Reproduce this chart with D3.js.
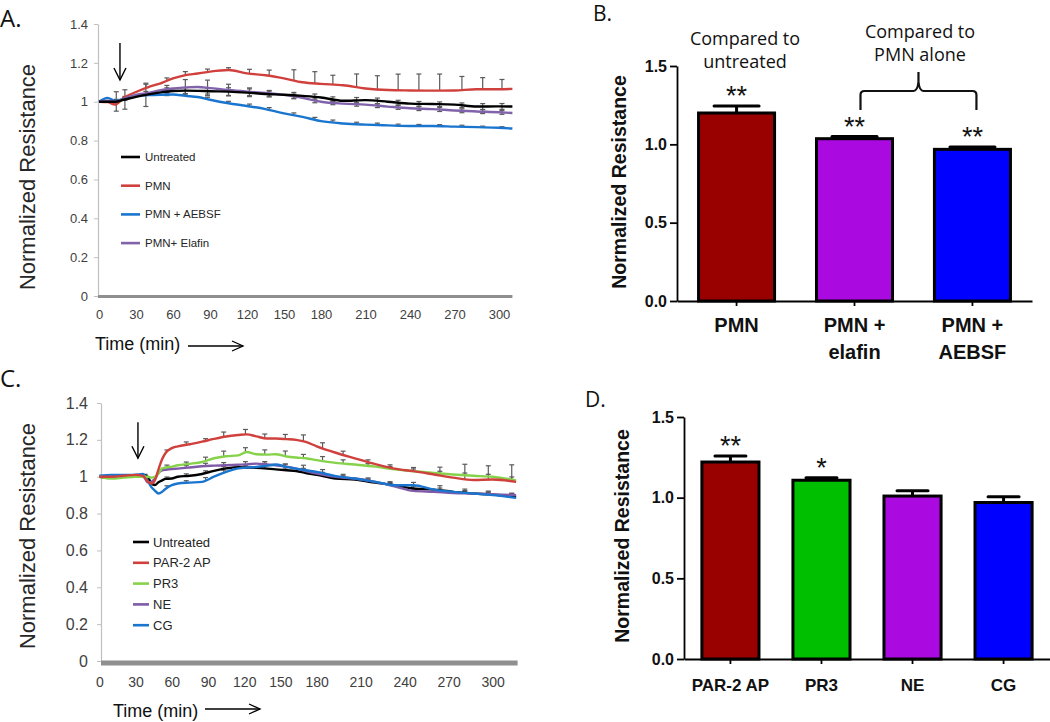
<!DOCTYPE html>
<html><head><meta charset="utf-8">
<script src="https://cdn.jsdelivr.net/npm/d3@7"></script>
<style>body{margin:0;background:#fff}svg{display:block}</style>
</head><body>
<script>
// ---------------- DATA ----------------
const yTicksLine = [0, 0.2, 0.4, 0.6, 0.8, 1, 1.2, 1.4];
const xTicksLine = [0, 30, 60, 90, 120, 150, 180, 210, 240, 270, 300];
const yTicksBar = [0, 0.5, 1.0, 1.5];

// Panel A
const timeA = [0, 7, 13, 20, 30, 40, 50, 60, 70, 80, 90, 105, 120, 135, 150, 165, 180, 195, 210, 225, 240, 255, 270, 285, 300, 309];
const untreatedA = [1.0, 1.0, 1.0, 1.01, 1.025, 1.038, 1.048, 1.055, 1.057, 1.056, 1.054, 1.052, 1.047, 1.04, 1.036, 1.03, 1.022, 1.005, 1.008, 1.0, 0.99, 0.988, 0.985, 0.975, 0.976, 0.975];
const pmnA = [1.0, 0.998, 0.985, 1.02, 1.05, 1.075, 1.095, 1.12, 1.137, 1.145, 1.155, 1.163, 1.146, 1.136, 1.12, 1.1, 1.092, 1.085, 1.068, 1.06, 1.058, 1.057, 1.058, 1.064, 1.064, 1.066];
const aebsfA = [1.0, 1.02, 1.004, 1.015, 1.03, 1.034, 1.036, 1.037, 1.03, 1.024, 1.01, 0.992, 0.978, 0.962, 0.94, 0.922, 0.9, 0.888, 0.882, 0.878, 0.875, 0.875, 0.872, 0.869, 0.866, 0.862];
const elafinA = [1.0, 1.005, 1.0, 1.015, 1.035, 1.045, 1.06, 1.068, 1.074, 1.076, 1.07, 1.06, 1.052, 1.045, 1.035, 1.02, 1.0, 0.99, 0.985, 0.975, 0.966, 0.962, 0.955, 0.95, 0.946, 0.942];
const errTimeA = [14, 21, 38, 55, 70, 88, 105, 122, 138, 158, 175, 188, 204, 218, 232, 246, 260, 275, 289, 302];
const errUntreatedA = [0.05, 0.05, 0.06, 0.02, 0.015, 0.015, 0.02, 0.02, 0.015, 0.015, 0.015, 0.012, 0.015, 0.015, 0.012, 0.012, 0.012, 0.012, 0.015, 0.015];
const errPmnA = [0, 0, 0.02, 0.015, 0.018, 0.015, 0.012, 0.022, 0.03, 0.055, 0.06, 0.048, 0.068, 0.07, 0.083, 0.085, 0.085, 0.07, 0.06, 0.05];
const errAebsfA = [0.005, 0.005, 0.005, 0.01, 0.01, 0.01, 0.01, 0.012, 0.012, 0.012, 0.012, 0.012, 0.01, 0.01, 0.008, 0.008, 0.008, 0.008, 0.006, 0.006];
const errElafinA = [0.01, 0.01, 0.01, 0.02, 0.04, 0.04, 0.03, 0.02, 0.015, 0.012, 0.012, 0.01, 0.01, 0.01, 0.01, 0.01, 0.01, 0.01, 0.01, 0.01];

// Panel C
const timeC = [0, 10, 20, 30, 36, 40, 43, 46, 49, 52, 55, 60, 65, 75, 85, 95, 105, 115, 122, 130, 139, 146, 155, 163, 171, 180, 193, 206, 220, 233, 246, 260, 273, 287, 300, 316];
const untreatedC = [1.0, 0.995, 1.0, 1.005, 1.01, 1.0, 0.965, 0.955, 0.97, 0.98, 0.988, 0.99, 1.0, 1.005, 1.015, 1.032, 1.045, 1.052, 1.05, 1.048, 1.044, 1.04, 1.035, 1.031, 1.02, 1.01, 0.99, 0.984, 0.968, 0.954, 0.936, 0.93, 0.918, 0.909, 0.903, 0.89];
const par2C = [1.0, 1.0, 1.005, 1.01, 1.005, 0.975, 0.963, 0.98, 1.04, 1.095, 1.13, 1.155, 1.165, 1.176, 1.19, 1.205, 1.218, 1.226, 1.23, 1.219, 1.207, 1.207, 1.204, 1.2, 1.189, 1.165, 1.13, 1.1, 1.068, 1.044, 1.03, 1.012, 0.995, 0.982, 0.985, 0.972];
const pr3C = [1.0, 0.99, 0.995, 1.0, 1.0, 1.0, 0.995, 1.0, 1.017, 1.045, 1.05, 1.055, 1.062, 1.07, 1.08, 1.1, 1.111, 1.116, 1.134, 1.122, 1.12, 1.122, 1.11, 1.104, 1.1, 1.09, 1.075, 1.066, 1.055, 1.04, 1.03, 1.02, 1.012, 1.005, 1.0, 0.98];
const neC = [1.0, 1.0, 1.005, 1.01, 1.01, 0.97, 0.972, 0.99, 1.02, 1.035, 1.038, 1.042, 1.044, 1.05, 1.057, 1.06, 1.062, 1.065, 1.067, 1.071, 1.066, 1.062, 1.055, 1.044, 1.03, 1.017, 0.999, 0.99, 0.972, 0.948, 0.923, 0.918, 0.912, 0.909, 0.905, 0.9];
const cgC = [1.005, 1.01, 1.01, 1.01, 1.015, 0.98, 0.945, 0.925, 0.909, 0.918, 0.935, 0.954, 0.963, 0.968, 0.972, 1.0, 1.026, 1.045, 1.05, 1.053, 1.06, 1.066, 1.053, 1.044, 1.035, 1.026, 1.003, 0.99, 0.972, 0.954, 0.954, 0.93, 0.918, 0.909, 0.9, 0.885];
const errTimeC = [23, 38, 56, 72, 88, 103, 121, 137, 154, 169, 184, 198, 215, 230, 246, 264, 281, 297, 313];
const errUntreatedC = [0.008, 0.008, 0.01, 0.012, 0.012, 0.012, 0.012, 0.012, 0.012, 0.012, 0.01, 0.01, 0.01, 0.012, 0.012, 0.012, 0.012, 0.012, 0.012];
const errPar2C = [0.005, 0.005, 0.01, 0.016, 0.012, 0.027, 0.027, 0.022, 0.025, 0.035, 0.03, 0.02, 0.012, 0.015, 0.02, 0.045, 0.08, 0.075, 0.09];
const errPr3C = [0, 0, 0.012, 0.012, 0.02, 0.03, 0.026, 0.025, 0.028, 0.02, 0.024, 0.02, 0.012, 0.012, 0.012, 0.012, 0.012, 0.012, 0.015];
const errNeC = [0, 0, 0.012, 0.012, 0.015, 0.015, 0.015, 0.015, 0.012, 0.012, 0.012, 0.01, 0.01, 0.01, 0.01, 0.01, 0.01, 0.01, 0.01];
const errCgC = [0, 0, 0.012, 0.012, 0.015, 0.015, 0.015, 0.015, 0.015, 0.025, 0.02, 0.015, 0.015, 0.015, 0.015, 0.025, 0.02, 0.02, 0.02];

// Panel B
const catsB = ["PMN", "PMN +\nelafin", "PMN +\nAEBSF"];
const valsB = [1.20, 1.036, 0.968];
const errsB = [0.045, 0.014, 0.015];
const starsB = ["**", "**", "**"];
const colorsB = ["#990000", "#aa0ae0", "#0000ff"];

// Panel D
const catsD = ["PAR-2 AP", "PR3", "NE", "CG"];
const valsD = [1.221, 1.108, 1.01, 0.97];
const errsD = [0.037, 0.016, 0.033, 0.035];
const starsD = ["**", "*", "", ""];
const colorsD = ["#990000", "#00bf00", "#aa0ae0", "#0000ff"];

// ---------------- DRAW ----------------
const LS = "'Liberation Sans', Arial, sans-serif";
const OS = "'Open Sans', sans-serif";
const svg = d3.select("body").append("svg").attr("width", 1050).attr("height", 722)
  .style("background", "#fff");

function drawLinePanel(o) {
  const g = svg.append("g");
  const x = d3.scaleLinear().domain(o.xDomain).range(o.xRange);
  const y = d3.scaleLinear().domain([0, 1.4]).range(o.yRange);

  const ya = g.append("g").attr("transform", `translate(${o.yAxisX},0)`)
    .call(d3.axisLeft(y).tickValues(yTicksLine).tickFormat(d3.format("~g"))
      .tickSize(4).tickSizeOuter(0).tickPadding(o.yTickPad));
  ya.select(".domain").attr("stroke", "#bfbfbf").attr("stroke-width", 1.2);
  ya.selectAll(".tick line").attr("stroke", "#bfbfbf");
  ya.selectAll("text").attr("font-family", LS).attr("font-size", o.yTickFont).attr("fill", "#404040");

  const xa = g.append("g").attr("transform", `translate(0,${o.yRange[0]})`)
    .call(d3.axisBottom(x).tickValues(xTicksLine).tickSize(0).tickSizeOuter(0).tickPadding(o.xTickPad));
  xa.select(".domain").remove();
  xa.selectAll("text").attr("font-family", LS).attr("font-size", o.xTickFont).attr("fill", "#404040");
  g.append("line").attr("x1", o.yAxisX).attr("x2", o.xRange[o.xRange.length - 1])
    .attr("y1", o.yRange[0] + o.barOff).attr("y2", o.yRange[0] + o.barOff)
    .attr("stroke", "#8f8f8f").attr("stroke-width", o.barW);

  o.series.forEach(s => {
    const interp = d3.scaleLinear().domain(o.time).range(s.values);
    const eg = g.append("g").attr("stroke", "#5a5a5a").attr("stroke-width", 1.2);
    o.errTime.forEach((t, i) => {
      const e = s.err[i];
      if (!e) return;
      const m = interp(t), cx = x(t);
      const top = y(m + e), bot = s.both ? y(m - e) : y(m);
      eg.append("line").attr("x1", cx).attr("x2", cx).attr("y1", top).attr("y2", bot);
      eg.append("line").attr("x1", cx - 2.5).attr("x2", cx + 2.5).attr("y1", top).attr("y2", top);
      if (s.both) eg.append("line").attr("x1", cx - 2.5).attr("x2", cx + 2.5).attr("y1", bot).attr("y2", bot);
    });
  });

  const line = d3.line().x((d, i) => x(o.time[i])).y(d => y(d)).curve(d3.curveMonotoneX);
  o.drawOrder.forEach(k => {
    const s = o.series[k];
    g.append("path").datum(s.values).attr("d", line).attr("fill", "none")
      .attr("stroke", s.color).attr("stroke-width", 2.4).attr("stroke-linejoin", "round");
  });

  o.series.forEach((s, i) => {
    const ly = o.legend.y0 + i * o.legend.dy;
    g.append("line").attr("x1", o.legend.x1).attr("x2", o.legend.x2).attr("y1", ly).attr("y2", ly)
      .attr("stroke", s.color).attr("stroke-width", 2.6);
    g.append("text").attr("x", o.legend.tx).attr("y", ly).attr("dy", "0.35em")
      .attr("font-family", LS).attr("font-size", o.legend.font).attr("fill", "#262626").text(s.name);
  });

  const ax = x(o.arrowT), ay1 = y(o.arrowTop), ay2 = y(o.arrowTip);
  g.append("line").attr("x1", ax).attr("x2", ax).attr("y1", ay1).attr("y2", ay2)
    .attr("stroke", "#000").attr("stroke-width", 1.4);
  g.append("path").attr("d", `M${ax - 6},${ay2 - 12} L${ax},${ay2} L${ax + 6},${ay2 - 12}`)
    .attr("fill", "none").attr("stroke", "#000").attr("stroke-width", 1.4);

  g.append("text").attr("transform", `translate(${o.yLabel[0]},${o.yLabel[1]}) rotate(-90)`)
    .attr("text-anchor", "middle").attr("dy", "0.35em")
    .attr("font-family", LS).attr("font-size", 22).attr("fill", "#262626").text("Normalized Resistance");
  g.append("text").attr("x", o.timeLabel[0]).attr("y", o.timeLabel[1])
    .attr("font-family", LS).attr("font-size", 18).attr("fill", "#111").text("Time (min)");
  const [tx1, tx2, ty] = o.timeArrow;
  g.append("line").attr("x1", tx1).attr("x2", tx2).attr("y1", ty).attr("y2", ty)
    .attr("stroke", "#000").attr("stroke-width", 1.3);
  g.append("path").attr("d", `M${tx2 - 11},${ty - 5} L${tx2},${ty} L${tx2 - 11},${ty + 5}`)
    .attr("fill", "none").attr("stroke", "#000").attr("stroke-width", 1.3);

  svg.append("text").attr("x", o.panel[1]).attr("y", o.panel[2]).attr("font-family", OS)
    .attr("font-size", 24).attr("fill", "#111").text(o.panel[0]);
}

drawLinePanel({
  xDomain: [0, 180, 300, 309], xRange: [99, 321, 499, 512.4], yRange: [296, 24], yAxisX: 98,
  yTickPad: 6, yTickFont: 13, xTickPad: 14, xTickFont: 13, barOff: 0.5, barW: 3,
  time: timeA, errTime: errTimeA,
  series: [
    { name: "Untreated", values: untreatedA, color: "#000000", err: errUntreatedA, both: true },
    { name: "PMN", values: pmnA, color: "#d0403c", err: errPmnA, both: false },
    { name: "PMN + AEBSF", values: aebsfA, color: "#1a75cf", err: errAebsfA, both: false },
    { name: "PMN+ Elafin", values: elafinA, color: "#8163ab", err: errElafinA, both: true }
  ],
  drawOrder: [1, 2, 3, 0],
  legend: { x1: 121, x2: 140, tx: 145, y0: 157, dy: 28.7, font: 11.5 },
  arrowT: 17, arrowTop: 1.302, arrowTip: 1.112,
  yLabel: [27, 177], timeLabel: [95, 350], timeArrow: [188, 243, 346],
  panel: ["A.", 0, 27]
});

drawLinePanel({
  xDomain: [0, 180, 300, 317], xRange: [99.3, 316.7, 492.7, 517.6], yRange: [661, 403], yAxisX: 101,
  yTickPad: 9, yTickFont: 16, xTickPad: 16, xTickFont: 14, barOff: 2, barW: 5,
  time: timeC, errTime: errTimeC,
  series: [
    { name: "Untreated", values: untreatedC, color: "#000000", err: errUntreatedC, both: false },
    { name: "PAR-2 AP", values: par2C, color: "#d0403c", err: errPar2C, both: false },
    { name: "PR3", values: pr3C, color: "#86d24a", err: errPr3C, both: false },
    { name: "NE", values: neC, color: "#7f5aa8", err: errNeC, both: false },
    { name: "CG", values: cgC, color: "#1a75cf", err: errCgC, both: false }
  ],
  drawOrder: [0, 3, 4, 2, 1],
  legend: { x1: 133, x2: 149, tx: 153, y0: 542, dy: 20.8, font: 13 },
  arrowT: 32, arrowTop: 1.295, arrowTip: 1.10,
  yLabel: [27, 536], timeLabel: [113, 717], timeArrow: [205, 260, 709],
  panel: ["C.", 0, 387]
});

function drawBarPanel(o) {
  const g = svg.append("g");
  const x = d3.scaleBand().domain(o.cats).range(o.xRange).paddingInner(o.pi).paddingOuter(o.po);
  const y = d3.scaleLinear().domain([0, 1.5]).range(o.yRange);

  const ya = g.append("g").attr("transform", `translate(${o.xRange[0]},0)`)
    .call(d3.axisLeft(y).tickValues(yTicksBar).tickFormat(d3.format(".1f")).tickSize(7).tickSizeOuter(0).tickPadding(3));
  ya.select(".domain").attr("stroke", "#000").attr("stroke-width", 1.8);
  ya.selectAll(".tick line").attr("stroke", "#000").attr("stroke-width", 1.8);
  ya.selectAll("text").attr("font-family", LS).attr("font-weight", "bold").attr("font-size", 16).attr("fill", "#111");

  const xa = g.append("g").attr("transform", `translate(0,${o.yRange[0]})`)
    .call(d3.axisBottom(x).tickSize(5).tickSizeOuter(0).tickFormat(""));
  xa.select(".domain").attr("stroke", "#000").attr("stroke-width", 1.8);
  xa.selectAll(".tick line").attr("stroke", "#000").attr("stroke-width", 1.8);

  o.cats.forEach(c => {
    const t = g.append("text").attr("text-anchor", "middle").attr("font-family", LS)
      .attr("font-weight", "bold").attr("font-size", o.catFont).attr("fill", "#111");
    c.split("\n").forEach((part, j) => {
      t.append("tspan").attr("x", x(c) + x.bandwidth() / 2).attr("y", o.catY + j * o.catDy).text(part);
    });
  });

  o.cats.forEach((c, i) => {
    const cx = x(c) + x.bandwidth() / 2;
    const top = y(o.vals[i] + o.errs[i]);
    g.append("line").attr("x1", cx).attr("x2", cx).attr("y1", y(o.vals[i])).attr("y2", top)
      .attr("stroke", "#000").attr("stroke-width", 3);
    g.append("line").attr("x1", cx - o.capW / 2).attr("x2", cx + o.capW / 2).attr("y1", top).attr("y2", top)
      .attr("stroke", "#000").attr("stroke-width", 3).attr("stroke-linecap", "round");
  });
  g.selectAll("rect.bar").data(o.vals).join("rect").attr("class", "bar")
    .attr("x", (d, i) => x(o.cats[i]) + 1.5).attr("width", x.bandwidth() - 3)
    .attr("y", d => y(d)).attr("height", d => o.yRange[0] - y(d))
    .attr("fill", (d, i) => o.colors[i]).attr("stroke", "#000").attr("stroke-width", 3);

  o.cats.forEach((c, i) => {
    if (!o.stars[i]) return;
    g.append("text").attr("x", x(c) + x.bandwidth() / 2).attr("y", y(o.vals[i] + o.errs[i]) - 1)
      .attr("text-anchor", "middle").attr("font-family", LS).attr("font-size", 27)
      .attr("fill", "#111").text(o.stars[i]);
  });

  g.append("text").attr("transform", `translate(${o.yLabel[0]},${o.yLabel[1]}) rotate(-90)`)
    .attr("text-anchor", "middle").attr("dy", "0.35em").attr("font-family", LS)
    .attr("font-weight", "bold").attr("font-size", 19.5).attr("fill", "#111").text("Normalized Resistance");

  svg.append("text").attr("x", o.panel[1]).attr("y", o.panel[2]).attr("font-family", OS)
    .attr("font-size", 21).attr("fill", "#111").text(o.panel[0]);
  return { x, y, g };
}

const B = drawBarPanel({
  cats: catsB, vals: valsB, errs: errsB, stars: starsB, colors: colorsB,
  xRange: [677, 1032], yRange: [301, 66], pi: 0.33, po: 0.17, capW: 45,
  catFont: 20, catY: 332, catDy: 27, yLabel: [619, 182], panel: ["B.", 593, 21]
});
[["Compared to", 745, 45], ["untreated", 745, 68], ["Compared to", 920, 38], ["PMN alone", 920, 61]]
  .forEach(([t, xx, yy]) => {
    svg.append("text").attr("x", xx).attr("y", yy).attr("text-anchor", "middle")
      .attr("font-family", OS).attr("font-size", 18).attr("fill", "#111").text(t);
  });
{
  const xl = B.x(catsB[1]) + B.x.bandwidth() / 2 + 6, xr = B.x(catsB[2]) + B.x.bandwidth() / 2 + 4;
  const xm = (xl + xr) / 2, yb = 110, yh = 91, yp = 72;
  svg.append("path")
    .attr("d", `M${xl},${yb} L${xl},${yh + 4} Q${xl},${yh} ${xl + 4},${yh} L${xm - 5},${yh} Q${xm - 1},${yh} ${xm},${yp + 10} L${xm},${yp} M${xm},${yp + 10} Q${xm + 1},${yh} ${xm + 5},${yh} L${xr - 4},${yh} Q${xr},${yh} ${xr},${yh + 4} L${xr},${yb}`)
    .attr("fill", "none").attr("stroke", "#111").attr("stroke-width", 2.2);
}

drawBarPanel({
  cats: catsD, vals: valsD, errs: errsD, stars: starsD, colors: colorsD,
  xRange: [684, 1050], yRange: [659, 417], pi: 0.34, po: 0.18, capW: 31,
  catFont: 17, catY: 691, catDy: 24, yLabel: [622, 536], panel: ["D.", 585, 407]
});
</script>
</body></html>
